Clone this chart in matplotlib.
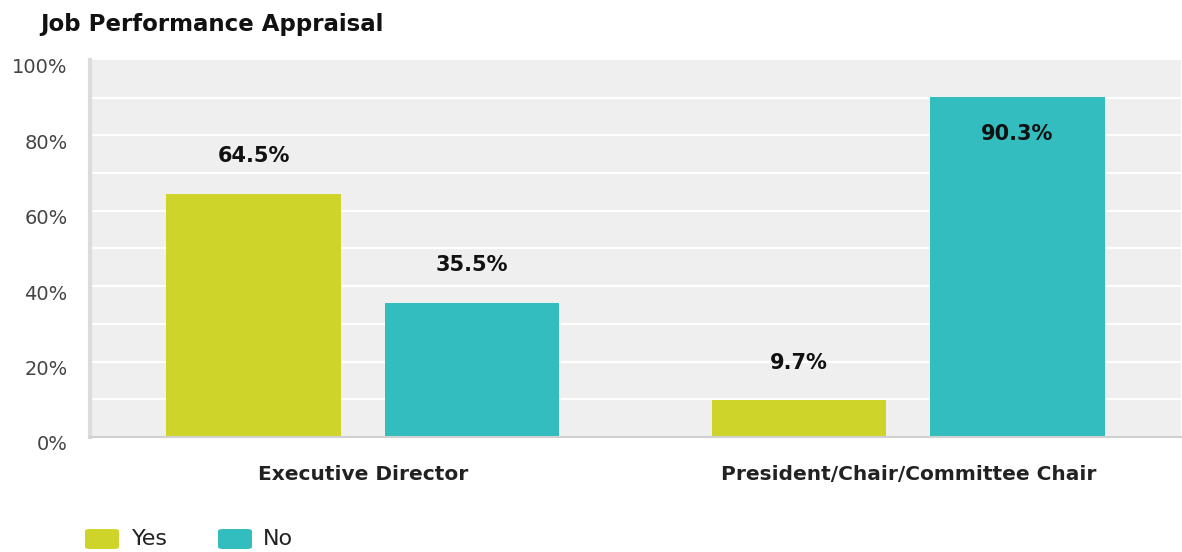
import matplotlib
matplotlib.use("Agg")
import matplotlib.pyplot as plt
from matplotlib.patches import FancyBboxPatch
from matplotlib.transforms import offset_copy
import numpy as np

categories = ["Executive Director", "President/Chair/Committee Chair"]
series_names = ["Yes", "No"]
yes_values = [64.5, 9.7]
no_values = [35.5, 90.3]
tick_values = [0, 20, 40, 60, 80, 100]
tick_labels = ["0%", "20%", "40%", "60%", "80%", "100%"]

colors = {"Yes": "#cfd42a", "No": "#34bdbf"}

W, H = 1182, 552
fig = plt.figure(figsize=(W / 100, H / 100), dpi=100)
ax = fig.add_axes([90 / W, 1 - 437 / H, (1181 - 90) / W, (437 - 60) / H])
ax.set_facecolor("#efefef")

x = np.arange(len(categories))
bw = 0.32
gap = 0.08
offsets = {"Yes": -(bw + gap) / 2, "No": (bw + gap) / 2}
data = {"Yes": yes_values, "No": no_values}

ax.set_xlim(-0.5, len(categories) - 0.5)
ax.set_ylim(0, 100)

for yv in range(10, 100, 10):
    ax.axhline(yv, color="white", lw=1.6, zorder=1)

for name in series_names:
    vals = data[name]
    ax.bar(x + offsets[name], vals, width=bw, color=colors[name], zorder=2)
    for xi, v in zip(x, vals):
        ty = v - 10 if v > 85 else v + 10
        ax.text(xi + offsets[name], ty, f"{v:.1f}%", ha="center", va="center",
                fontsize=15, fontweight="bold", color="#111111",
                family="DejaVu Sans", zorder=3)

for s in ["top", "right"]:
    ax.spines[s].set_visible(False)
ax.spines["left"].set_color("#dcdcdc")
ax.spines["left"].set_linewidth(3)
ax.spines["bottom"].set_color("#d0d0d0")
ax.spines["bottom"].set_linewidth(1.5)

ax.set_yticks(tick_values)
ax.set_yticklabels(tick_labels)
ax.tick_params(axis="y", length=0, pad=16, labelsize=14, labelcolor="#444444")
ax.set_xticks(x)
ax.set_xticklabels(categories)
ax.tick_params(axis="x", length=0, pad=20, labelsize=14.5, labelcolor="#222222")
for lbl in ax.get_xticklabels():
    lbl.set_fontweight("bold")
for lbl in ax.get_yticklabels():
    lbl.set_verticalalignment("center")
    lbl.set_transform(offset_copy(lbl.get_transform(), fig=fig, y=-8, units="dots"))

fig.text(40 / W, 1 - 24 / H, "Job Performance Appraisal", ha="left", va="center",
         fontsize=16.5, fontweight="bold", family="DejaVu Sans", color="#111111")

# legend swatches
legend_items = [("Yes", 85, 132), ("No", 218, 263)]
for name, sx, tx in legend_items:
    sw = FancyBboxPatch((sx / W, 1 - 549 / H), 34 / W, 20 / H,
                        boxstyle="round,pad=0,rounding_size=0.004",
                        transform=fig.transFigure, facecolor=colors[name],
                        edgecolor="none")
    fig.patches.append(sw)
    fig.text(tx / W, 1 - 539 / H, name, ha="left", va="center", fontsize=16,
             color="#222222", family="DejaVu Sans")

fig.savefig("out.png", dpi=100)
